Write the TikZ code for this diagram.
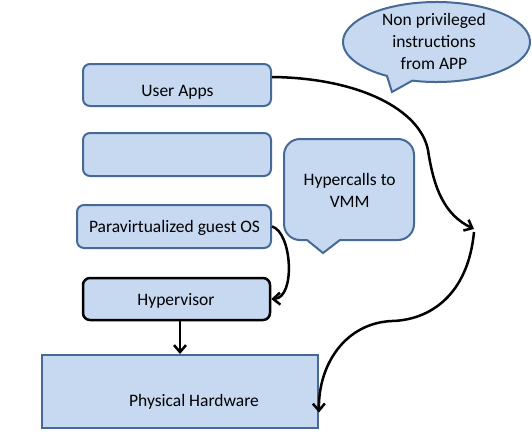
\documentclass[tikz,border=0pt]{standalone}
\usepackage{fontspec}
\setmainfont{Carlito}
\usetikzlibrary{arrows.meta}
\definecolor{boxfill}{RGB}{198,217,241}
\definecolor{boxline}{RGB}{70,105,150}
\begin{document}
\begin{tikzpicture}[x=1pt,y=1pt]
\tikzset{
  box/.style={draw=boxline, fill=boxfill, line width=2pt, rounded corners=7pt, inner sep=0pt},
  lbl/.style={font=\fontsize{17.5}{22}\selectfont, inner sep=0pt, align=center},
  conn/.style={line width=2.5pt, -{Straight Barb[length=7pt,width=12pt]}},
  bubble/.style={draw=boxline, fill=boxfill, line width=2pt}
}
\useasboundingbox (0,0) rectangle (532,-434);

% boxes
\node[box, minimum width=188pt, minimum height=42pt] (ua) at (177,-85) {};
\node[box, minimum width=188pt, minimum height=43pt] (blank) at (177,-154.5) {};
\node[box, minimum width=194pt, minimum height=43pt] (pv) at (174,-226.5) {};
\node[box, draw=black, line width=2.5pt, minimum width=187pt, minimum height=42pt] (hv) at (176.5,-299) {};
\node[box, rounded corners=0pt, minimum width=276pt, minimum height=73pt] (ph) at (180,-391.5) {};

\node[lbl, anchor=base] (uat) at (177.5,-96.7) {User Apps};
\node[lbl, anchor=base] (pvt) at (174.5,-232.7) {Paravirtualized guest OS};
\node[lbl, anchor=base] (hvt) at (176,-305) {Hypervisor};
\node[lbl, anchor=base] (pht) at (194,-406.7) {Physical Hardware};

% ellipse callout
\draw[bubble] (436.5,-42) ++(255:93.5 and 40)
  arc[start angle=255, end angle=598, x radius=93.5, y radius=40]
  -- (392,-92) -- cycle;
\node[lbl] (npt) at (434,-41.8) {Non privileged\\instructions\\from APP};

% rectangular callout
\draw[bubble] (307,-240) -- (323,-253) -- (340,-240) -- (398,-240)
  arc[start angle=270, end angle=360, radius=16] -- (414,-155)
  arc[start angle=0, end angle=90, radius=16] -- (300,-139)
  arc[start angle=90, end angle=180, radius=16] -- (284,-224)
  arc[start angle=180, end angle=270, radius=16] -- cycle;
\node[lbl] (hct) at (349.7,-190.6) {Hypercalls to\\VMM};

% connectors
\coordinate (mid) at (474,-229);
\draw[conn] ([yshift=8pt]ua.east) .. controls (360,-78) and (420,-110) .. (428,-150)
  .. controls (434,-190) and (445,-215) .. (mid);
\draw[conn] ([yshift=-3pt]mid) .. controls (468,-295) and (430,-320) .. (392,-321)
  .. controls (345,-323) and (318,-365) .. ([yshift=-21pt]ph.east);
\draw[conn] (pv.east) .. controls (292,-232) and (296,-298) .. (hv.east);
\draw[conn] (ph.north |- hv.south) -- (ph.north);
\end{tikzpicture}
\end{document}
